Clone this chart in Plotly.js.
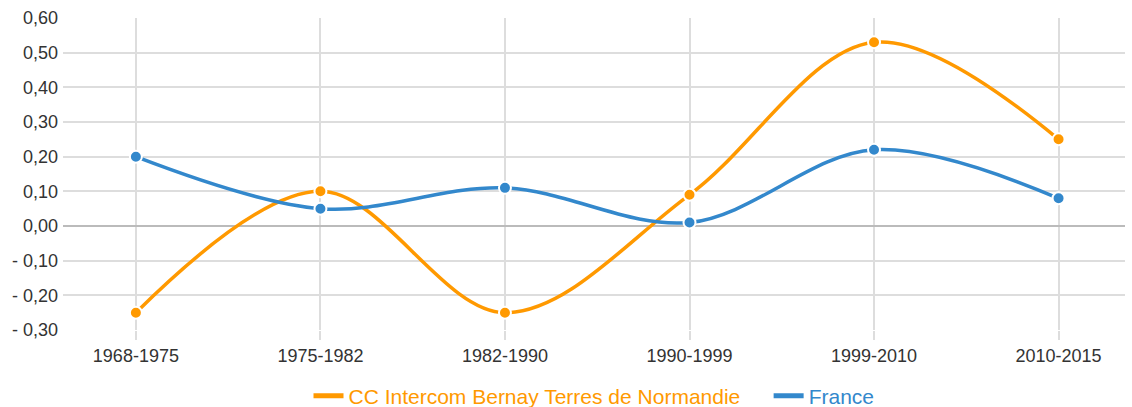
<!DOCTYPE html>
<html>
<head>
<meta charset="utf-8">
<script src="https://cdn.plot.ly/plotly-3.0.1.min.js"></script>
<style>html,body{margin:0;padding:0;background:#fff;}#chart{width:1132px;height:407px;}</style>
</head>
<body>
<div id="chart"></div>
<script>
const periods = ["1968-1975", "1975-1982", "1982-1990", "1990-1999", "1999-2010", "2010-2015"];
const bernay = [-0.25, 0.10, -0.25, 0.09, 0.53, 0.25];
const france = [0.20, 0.05, 0.11, 0.01, 0.22, 0.08];
const yTickVals = [0.6, 0.5, 0.4, 0.3, 0.2, 0.1, 0, -0.1, -0.2, -0.3];
const yTickText = ["0,60", "0,50", "0,40", "0,30", "0,20", "0,10", "0,00", "- 0,10", "- 0,20", "- 0,30"];
const seriesNames = ["CC Intercom Bernay Terres de Normandie", "France"];
const orange = "#ff9900";
const blue = "#3388cc";

const xIdx = periods.map((_, i) => i);

function trace(vals, color) {
  return {
    x: xIdx, y: vals, type: "scatter", mode: "lines+markers",
    showlegend: false, hoverinfo: "skip",
    line: {color: color, width: 3.5, shape: "spline", smoothing: 1},
    marker: {color: color, size: 12, line: {color: "#fff", width: 2}},
    cliponaxis: false
  };
}
function legendEntry(name, color, pad) {
  return {
    x: [null], y: [null], type: "scatter", mode: "lines",
    name: '<span style="color:' + color + '">' + name + '</span>' + pad,
    line: {color: color, width: 5}, showlegend: true
  };
}

const data = [
  trace(bernay, orange), trace(france, blue),
  legendEntry(seriesNames[0], orange, "\u00a0\u00a0\u00a0\u00a0"), legendEntry(seriesNames[1], blue, "")
];

const layout = {
  width: 1132, height: 407,
  margin: {l: 63, r: 7, t: 18, b: 77, autoexpand: false},
  paper_bgcolor: "#fff", plot_bgcolor: "#fff",
  font: {family: "Liberation Sans, Arial, sans-serif", size: 18, color: "#333"},
  showlegend: true,
  legend: {orientation: "h", x: 0.5, xanchor: "center", y: -0.212, yanchor: "middle",
           font: {size: 21}, traceorder: "normal"},
  xaxis: {
    range: [-0.395, 5.36], tickvals: xIdx, ticktext: periods,
    showgrid: true, gridcolor: "#dddddd", gridwidth: 2,
    ticks: "outside", ticklen: 9, tickcolor: "#dddddd", tickwidth: 2,
    zeroline: false, showline: false, fixedrange: true
  },
  yaxis: {
    range: [-0.3, 0.6], tickvals: yTickVals, ticktext: yTickText,
    showgrid: true, gridcolor: "#dddddd", gridwidth: 2,
    zeroline: true, zerolinecolor: "#bbbbbb", zerolinewidth: 2,
    showline: false, ticks: "", ticklabelstandoff: 4, fixedrange: true
  }
};

Plotly.newPlot("chart", data, layout, {displayModeBar: false, staticPlot: true});
</script>
</body>
</html>
